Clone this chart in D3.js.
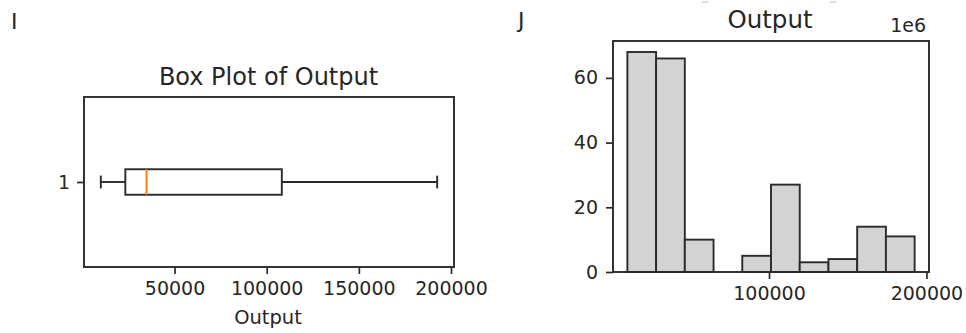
<!DOCTYPE html>
<html>
<head>
<meta charset="utf-8">
<script src="https://cdn.jsdelivr.net/npm/d3@7"></script>
<style>
    body { margin: 0; background: #fff; }
    svg { display: block; font-family: "DejaVu Sans", sans-serif; }
    text { fill: #262626; }
</style>
</head>
<body>
<div id="chart"></div>
<script>
// Data
const boxLabels = ["1"];
const boxStats = [{ low: 10000, q1: 23300, median: 34800, q3: 108200, high: 192500 }];
const boxTicks = [50000, 100000, 150000, 200000];

const histCounts = [68, 66, 10, 0, 5, 27, 3, 4, 14, 11];
const histRange = [10000, 192500];
const histXTicks = [100000, 200000];
const histYTicks = [0, 20, 40, 60];

const W = 966, H = 333;
const ink = "#2a2a2a";
const lw = 1.9;

const svg = d3.select("#chart")
    .append("svg")
    .attr("width", W)
    .attr("height", H);

// matplotlib style 5% margins
function padded(lo, hi) {
    const m = (hi - lo) * 0.05;
    return [lo - m, hi + m];
}

function frame(g, x0, y0, x1, y1) {
    g.append("rect")
        .attr("x", x0).attr("y", y0)
        .attr("width", x1 - x0).attr("height", y1 - y0)
        .attr("fill", "none")
        .attr("stroke", ink)
        .attr("stroke-width", lw);
}

function styleAxis(a, fontSize) {
    a.select(".domain").remove();
    a.selectAll(".tick line").attr("stroke", ink).attr("stroke-width", 1.7);
    a.selectAll(".tick text").attr("fill", ink).style("font-size", fontSize + "px")
        .style("font-family", "DejaVu Sans");
}

// -----------------------------
// Panel I : box plot
// -----------------------------
const L = { left: 84, right: 454, top: 97, bottom: 267 };
const gI = svg.append("g");

const xBox = d3.scaleLinear()
    .domain(padded(boxStats[0].low, boxStats[0].high))
    .range([L.left, L.right]);
const yBox = d3.scaleLinear().domain([0.5, 1.5]).range([L.bottom, L.top]);

const boxHalf = 0.075;

boxStats.forEach((s, i) => {
    const pos = i + 1;
    const yc = yBox(pos);
    const capT = yBox(pos + boxHalf / 2), capB = yBox(pos - boxHalf / 2);
    // whiskers
    gI.append("line").attr("x1", xBox(s.low)).attr("x2", xBox(s.q1))
        .attr("y1", yc).attr("y2", yc).attr("stroke", ink).attr("stroke-width", lw);
    gI.append("line").attr("x1", xBox(s.q3)).attr("x2", xBox(s.high))
        .attr("y1", yc).attr("y2", yc).attr("stroke", ink).attr("stroke-width", lw);
    // caps
    [s.low, s.high].forEach(v => {
        gI.append("line").attr("x1", xBox(v)).attr("x2", xBox(v))
            .attr("y1", capT).attr("y2", capB).attr("stroke", ink).attr("stroke-width", lw);
    });
    // box
    gI.append("rect")
        .attr("x", xBox(s.q1))
        .attr("y", yBox(pos + boxHalf))
        .attr("width", xBox(s.q3) - xBox(s.q1))
        .attr("height", yBox(pos - boxHalf) - yBox(pos + boxHalf))
        .attr("fill", "none").attr("stroke", ink).attr("stroke-width", lw);
    // median
    gI.append("line").attr("x1", xBox(s.median)).attr("x2", xBox(s.median))
        .attr("y1", yBox(pos + boxHalf)).attr("y2", yBox(pos - boxHalf))
        .attr("stroke", "#ff7f0e").attr("stroke-width", 2);
});

frame(gI, L.left, L.top, L.right, L.bottom);

const axBoxX = gI.append("g")
    .attr("transform", `translate(0,${L.bottom})`)
    .call(d3.axisBottom(xBox).tickValues(boxTicks).tickFormat(d3.format("d"))
        .tickSizeInner(7).tickSizeOuter(0).tickPadding(8));
styleAxis(axBoxX, 19);

const axBoxY = gI.append("g")
    .attr("transform", `translate(${L.left},0)`)
    .call(d3.axisLeft(yBox).tickValues([1]).tickFormat((d, i) => boxLabels[i])
        .tickSizeInner(7).tickSizeOuter(0).tickPadding(7));
styleAxis(axBoxY, 19);

gI.append("text")
    .attr("x", (L.left + L.right) / 2 - 0.5).attr("y", 85)
    .attr("text-anchor", "middle").style("font-size", "24px")
    .text("Box Plot of Output");

gI.append("text")
    .attr("x", (L.left + L.right) / 2 - 1).attr("y", 324)
    .attr("text-anchor", "middle").style("font-size", "19.5px")
    .text("Output");

gI.append("text")
    .attr("x", 11).attr("y", 29).style("font-size", "22px").text("I");

// -----------------------------
// Panel J : histogram
// -----------------------------
const R = { left: 613, right: 929, top: 41, bottom: 272 };
const gJ = svg.append("g");

const xHist = d3.scaleLinear()
    .domain(padded(histRange[0], histRange[1]))
    .range([R.left, R.right]);
const yHist = d3.scaleLinear()
    .domain([0, d3.max(histCounts) * 1.05])
    .range([R.bottom, R.top]);

const binW = (histRange[1] - histRange[0]) / histCounts.length;
const bins = histCounts.map((c, i) => ({
    x0: histRange[0] + i * binW,
    x1: histRange[0] + (i + 1) * binW,
    count: c
}));

gJ.selectAll("rect.bar")
    .data(bins.filter(b => b.count > 0))
    .enter()
    .append("rect")
    .attr("class", "bar")
    .attr("x", d => xHist(d.x0))
    .attr("y", d => yHist(d.count))
    .attr("width", d => xHist(d.x1) - xHist(d.x0))
    .attr("height", d => yHist(0) - yHist(d.count))
    .attr("fill", "#d3d3d3")
    .attr("stroke", ink)
    .attr("stroke-width", lw);

frame(gJ, R.left, R.top, R.right, R.bottom);

const axHistX = gJ.append("g")
    .attr("transform", `translate(0,${R.bottom})`)
    .call(d3.axisBottom(xHist).tickValues(histXTicks).tickFormat(d3.format("d"))
        .tickSizeInner(7).tickSizeOuter(0).tickPadding(8));
styleAxis(axHistX, 19);

const axHistY = gJ.append("g")
    .attr("transform", `translate(${R.left},0)`)
    .call(d3.axisLeft(yHist).tickValues(histYTicks).tickFormat(d3.format("d"))
        .tickSizeInner(7).tickSizeOuter(0).tickPadding(8));
styleAxis(axHistY, 19);

gJ.append("text")
    .attr("x", 770).attr("y", 28)
    .attr("text-anchor", "middle").style("font-size", "24.5px")
    .text("Output");

gJ.append("text")
    .attr("x", 926).attr("y", 32)
    .attr("text-anchor", "end").style("font-size", "19px")
    .text("1e6");

gJ.append("text")
    .attr("x", 518).attr("y", 28).style("font-size", "22px").text("J");

// faint leftovers of the panel above
[705, 833].forEach(x => {
    svg.append("line").attr("x1", x - 3).attr("x2", x + 3)
        .attr("y1", 2).attr("y2", 2).attr("stroke", "#c8c8c8").attr("stroke-width", 1.2);
});
</script>
</body>
</html>
